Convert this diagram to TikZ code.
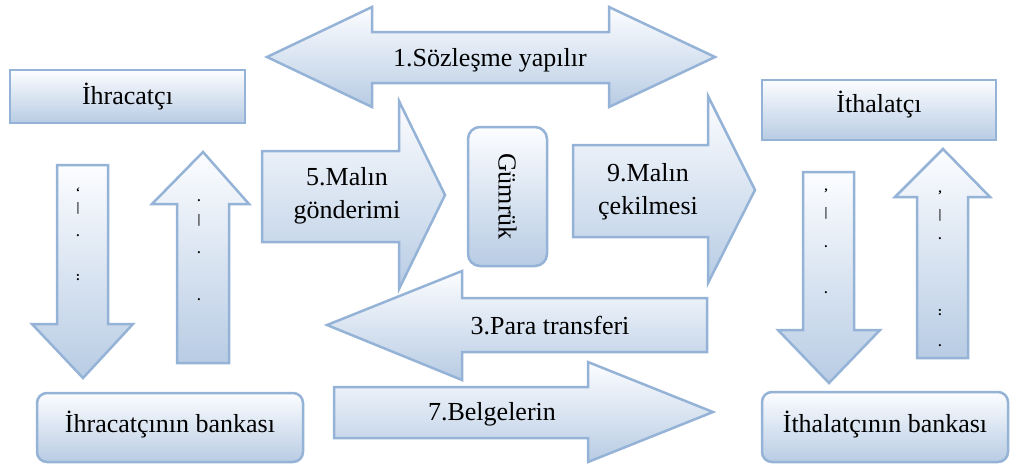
\documentclass[tikz,border=0pt]{standalone}
\usepackage{fontspec}
\setmainfont{Liberation Serif}
\definecolor{bordc}{RGB}{149,179,215}
\definecolor{botc}{RGB}{184,204,228}
\definecolor{topc}{RGB}{252,253,255}
\tikzset{
  shp/.style={draw=bordc, line width=2.5pt, top color=topc, bottom color=botc},
  lbl/.style={font=\fontsize{26}{33}\selectfont, align=center, inner sep=0pt},
  frag/.style={font=\fontsize{13}{13}\selectfont\bfseries, inner sep=0pt},
}
\begin{document}
\begin{tikzpicture}[x=1pt,y=-1pt]
\useasboundingbox (0,0) rectangle (1020,464);

% boxes
\path[shp] (10,70) rectangle (245,123);
\node[lbl] (ihr) at (127.5,97) {İhracatçı};
\path[shp] (762,80) rectangle (996,140);
\node[lbl] (ith) at (879,105) {İthalatçı};
\path[shp, rounded corners=10pt] (37,393) rectangle (303,462);
\node[lbl] (ihrb) at (170,425) {İhracatçının bankası};
\path[shp, rounded corners=10pt] (762,392) rectangle (1008,462);
\node[lbl] (ithb) at (885,425) {İthalatçının bankası};
\path[shp, rounded corners=12pt] (468,127) rectangle (547,266);
\node[lbl, rotate=-90] (gum) at (507.5,196.5) {Gümrük};

% top double arrow
\path[shp] (267,57) -- (372,7) -- (372,32) -- (609,32) -- (609,7) -- (715,57)
  -- (609,107) -- (609,83) -- (372,83) -- (372,107) -- cycle;
\node[lbl] (a1) at (490,60) {1.Sözleşme yapılır};

% arrow 5
\path[shp] (262,151) -- (399,151) -- (399,101) -- (445,195) -- (399,289)
  -- (399,242) -- (262,242) -- cycle;
\node[lbl] (a5) at (347,196) {5.Malın\\gönderimi};

% arrow 9
\path[shp] (573,145) -- (708,145) -- (708,96) -- (755,190) -- (708,283)
  -- (708,237) -- (573,237) -- cycle;
\node[lbl] (a9) at (648,192) {9.Malın\\çekilmesi};

% arrow 3
\path[shp] (327,325) -- (462,271) -- (462,298) -- (707,298) -- (707,352)
  -- (462,352) -- (462,380) -- cycle;
\node[lbl] (a3) at (550,326) {3.Para transferi};

% arrow 7
\path[shp] (334,387) -- (588,387) -- (588,362) -- (713,412) -- (588,462)
  -- (588,438) -- (334,438) -- cycle;
\node[lbl] (a7) at (492,414) {7.Belgelerin};

% vertical arrows
\path[shp] (57,165) -- (108,165) -- (108,324) -- (133,324) -- (83,378)
  -- (32,324) -- (57,324) -- cycle;
\path[shp] (203,152) -- (249,204) -- (229,204) -- (229,363) -- (177,363)
  -- (177,204) -- (152,204) -- cycle;
\path[shp] (803,172) -- (854,172) -- (854,330) -- (880,330) -- (829,383)
  -- (778,330) -- (803,330) -- cycle;
\path[shp] (943,149) -- (990,197) -- (968,197) -- (968,358) -- (917,358)
  -- (917,197) -- (895,197) -- cycle;

% clipped text fragments
\node[frag] (f1) at (78,192) {`};
\node[frag] (f2) at (78,208) {|};
\node[frag] (f3) at (78,236) {.};
\node[frag] (f4) at (78,278) {:};
\node[frag] (f5) at (199,201) {.};
\node[frag] (f6) at (199,220) {|};
\node[frag] (f7) at (199,253) {.};
\node[frag] (f8) at (199,300) {.};
\node[frag] (f9) at (826,193) {'};
\node[frag] (f10) at (826,213) {|};
\node[frag] (f11) at (826,247) {.};
\node[frag] (f12) at (826,293) {.};
\node[frag] (f13) at (940,195) {'};
\node[frag] (f14) at (940,215) {|};
\node[frag] (f15) at (940,239) {.};
\node[frag] (f16) at (940,313) {:};
\node[frag] (f17) at (940,346) {.};
\end{tikzpicture}
\end{document}
